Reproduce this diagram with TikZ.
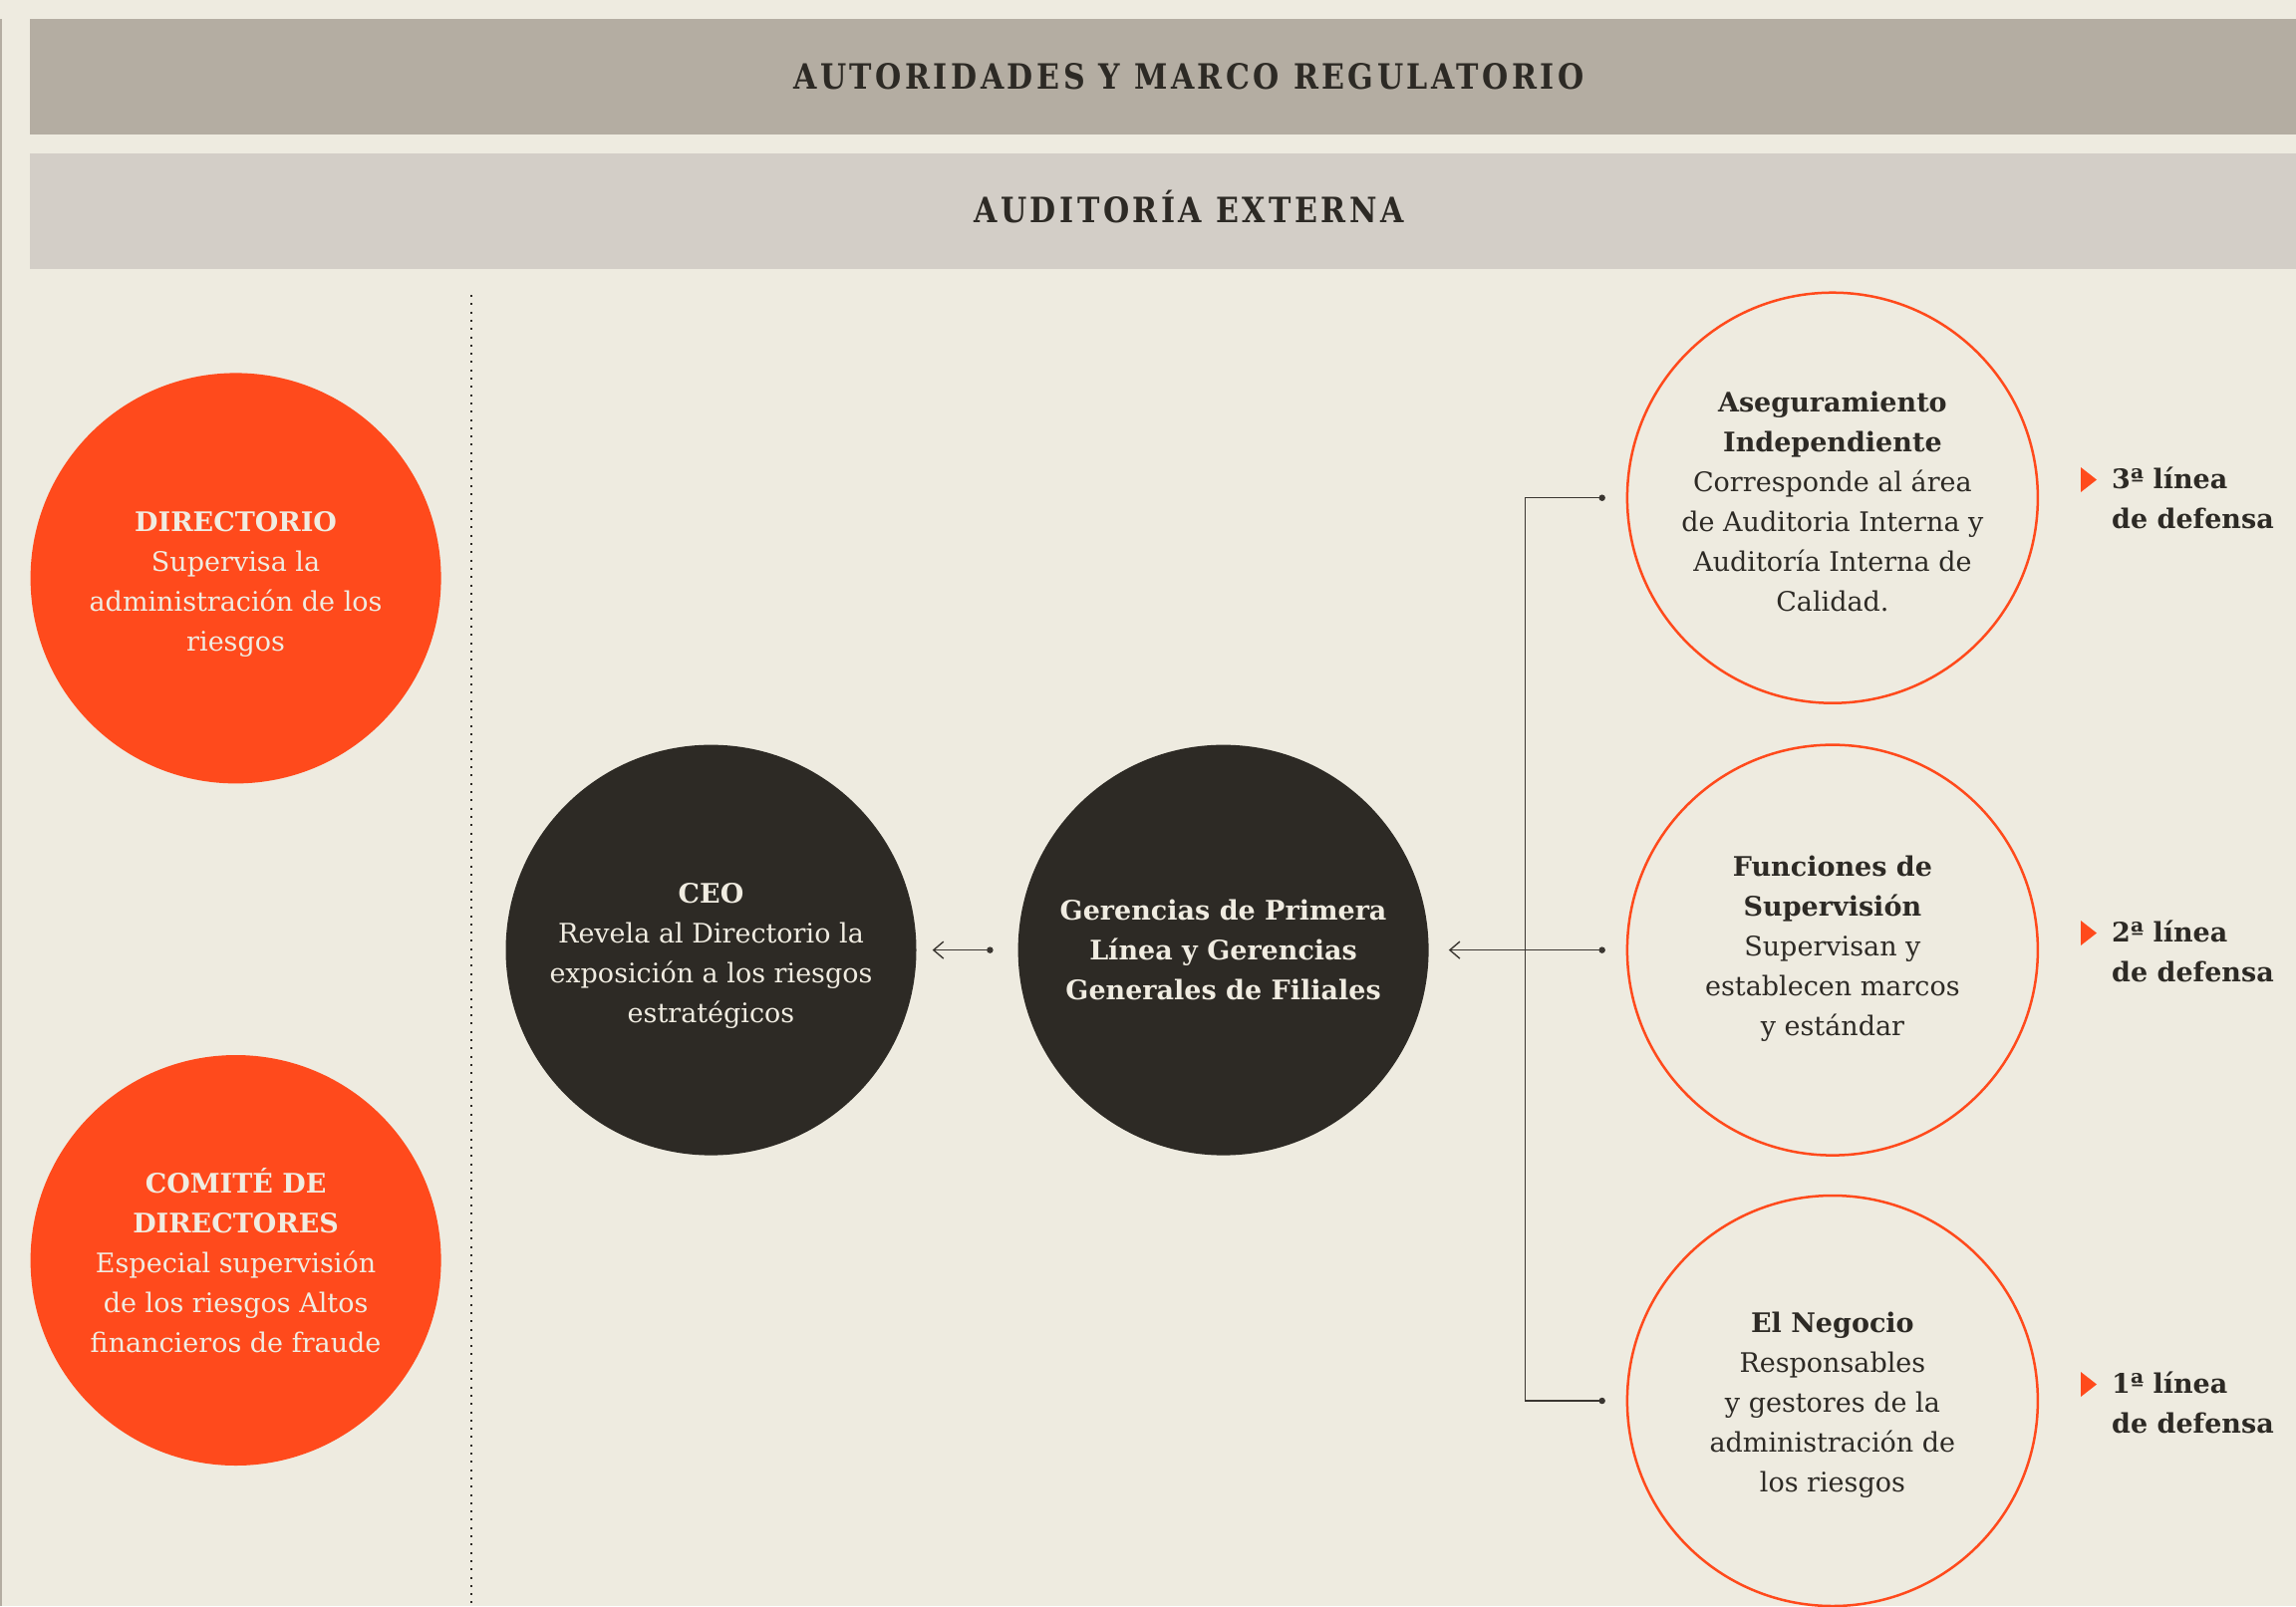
\documentclass[tikz,border=0pt]{standalone}
\usepackage{fontspec}
\setmainfont{DejaVu Serif}
\newfontfamily\bannerfont{DejaVu Serif}[FakeStretch=0.86,LetterSpace=10]
\usetikzlibrary{arrows.meta,calc}
\definecolor{bg}{HTML}{EEEBE0}
\definecolor{bannerA}{HTML}{B4ADA2}
\definecolor{bannerB}{HTML}{D3CEC7}
\definecolor{orng}{HTML}{FF4A1C}
\definecolor{dark}{HTML}{2D2A25}
\definecolor{cream}{HTML}{F0ECE1}
\definecolor{conn}{HTML}{3A3631}
\tikzset{
  banner/.style={fill=#1, draw=none},
  bannertext/.style={text=dark, font=\bannerfont\bfseries\fontsize{35}{42}\selectfont},
  bigcirc/.style={circle, minimum size=412pt, inner sep=0pt},
  fullorange/.style={bigcirc, fill=orng},
  fulldark/.style={bigcirc, fill=dark},
  ring/.style={bigcirc, draw=orng, line width=2.5pt},
  circtext/.style={align=center, inner sep=0pt, font=\fontsize{27}{40}\selectfont, text=#1},
  connline/.style={draw=conn, line width=1.4pt},
  arr/.style={connline, -{Straight Barb[length=10pt,width=17pt,line width=1.4pt]}},
  dotmark/.style={circle, fill=conn, inner sep=0pt, minimum size=6.5pt},
  linelbl/.style={anchor=west, align=left, inner sep=0pt, text=dark, font=\bfseries\fontsize{27}{40}\selectfont},
}
\begin{document}
\begin{tikzpicture}[x=1pt,y=-1pt]
\useasboundingbox (0,0) rectangle (2304,1612);
\fill[bg] (0,0) rectangle (2304,1612);
\draw[bannerA, line width=1.5pt] (0.75,19) -- (0.75,1612);
% banners
\fill[banner=bannerA] (30,19) rectangle (2304,135);
\fill[banner=bannerB] (30,154) rectangle (2304,270);
\node[bannertext] (t1) at (1193,77) {AUTORIDADES Y MARCO REGULATORIO};
\node[bannertext] (t2) at (1193,208) {AUDITORÍA EXTERNA};
% dotted separator
\draw[dark, line width=2pt, dash pattern=on 2pt off 6.3pt] (473,296) -- (473,1612);
% left circles
\node[fullorange] (dir) at (236.6,580.4) {};
\node[circtext=cream] (dirt) at ($(dir.center)+(0,6)$) {\textbf{DIRECTORIO}\\Supervisa la\\administración de los\\riesgos};
\node[fullorange] (com) at (236.6,1265) {};
\node[circtext=cream] (comt) at (com.center) {\textbf{COMITÉ DE}\\\textbf{DIRECTORES}\\Especial supervisión\\de los riesgos Altos\\financieros de fraude};
% dark circles
\node[fulldark] (ceo) at (713.5,953.6) {};
\node[circtext=cream] (ceot) at ($(ceo.center)+(0,6)$) {\textbf{CEO}\\Revela al Directorio la\\exposición a los riesgos\\estratégicos};
\node[fulldark] (ger) at (1227.6,953.6) {};
\node[circtext=cream] (gert) at (ger.center) {\textbf{Gerencias de Primera}\\\textbf{Línea y Gerencias}\\\textbf{Generales de Filiales}};
% right rings
\node[ring] (ase) at (1838.9,499.7) {};
\node[circtext=dark] (aset) at ($(ase.center)+(0,4)$) {\textbf{Aseguramiento}\\\textbf{Independiente}\\Corresponde al área\\de Auditoria Interna y\\Auditoría Interna de\\Calidad.};
\node[ring] (fun) at (1838.9,953.6) {};
\node[circtext=dark] (funt) at ($(fun.center)+(0,-1)$) {\textbf{Funciones de}\\\textbf{Supervisión}\\Supervisan y\\establecen marcos\\y estándar};
\node[ring] (neg) at (1838.9,1406) {};
\node[circtext=dark] (negt) at ($(neg.center)+(0,4)$) {\textbf{El Negocio}\\Responsables\\y gestores de la\\administración de\\los riesgos};
% connectors
\coordinate (dg) at ($(ger.west)+(-28,0)$);
\node[dotmark] (dgm) at (dg) {};
\draw[arr, shorten >=16pt] (dgm.center) -- (ceo.east);
\coordinate (da) at ($(ase.west)+(-24,0)$);
\coordinate (df) at ($(fun.west)+(-24,0)$);
\coordinate (dn) at ($(neg.west)+(-24,0)$);
\node[dotmark] (dam) at (da) {};
\node[dotmark] (dfm) at (df) {};
\node[dotmark] (dnm) at (dn) {};
\draw[connline] (dam.center) -- ++(-77,0) coordinate (bt) -- (bt |- dnm) -- (dnm.center);
\draw[arr, shorten >=20pt] (dfm.center) -- (ger.east);
% line labels
\node[linelbl] (l3) at (2119,500) {3ª línea\\de defensa};
\node[linelbl] (l2) at (2119,955) {2ª línea\\de defensa};
\node[linelbl] (l1) at (2119,1408) {1ª línea\\de defensa};
\foreach \l in {l3,l2,l1}{
  \fill[orng] ($(\l.west)+(-31,-31)$) -- ($(\l.west)+(-15,-18.5)$) -- ($(\l.west)+(-31,-6)$) -- cycle;
}
\end{tikzpicture}
\end{document}
